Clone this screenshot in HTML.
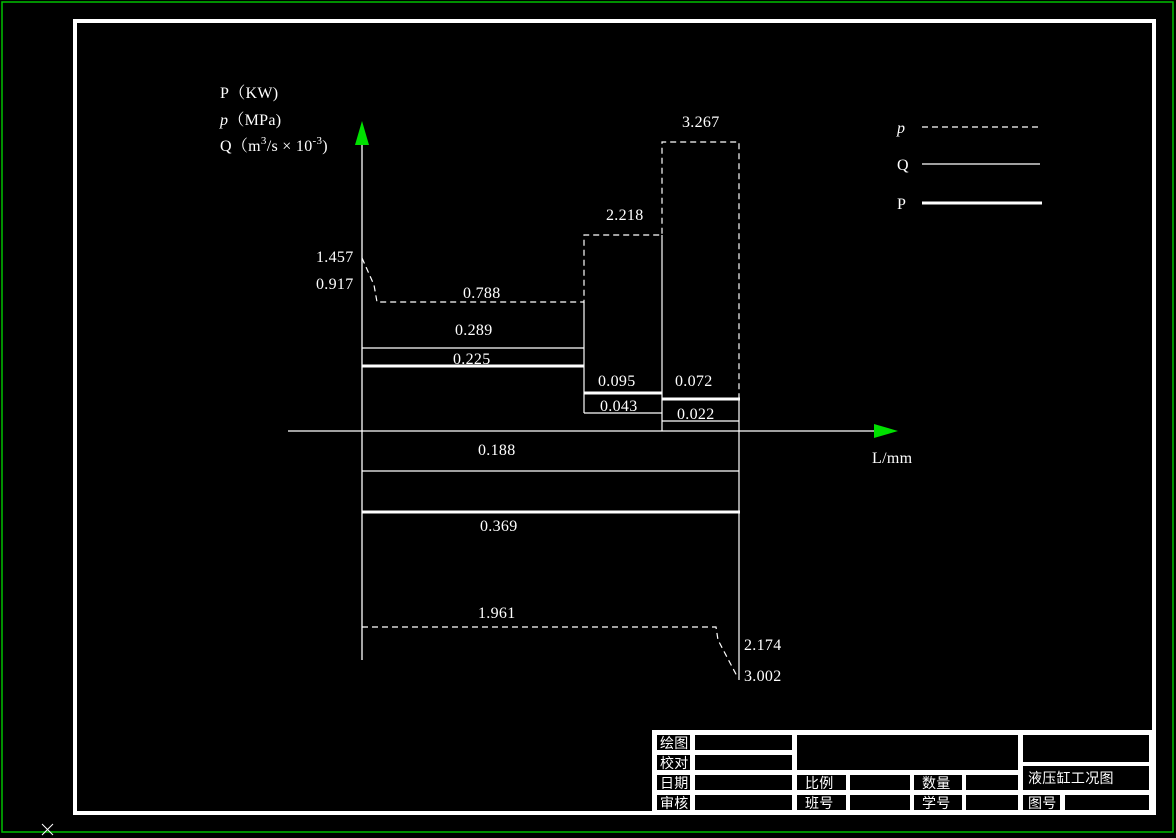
<!DOCTYPE html>
<html><head><meta charset="utf-8"><style>
html,body{margin:0;padding:0;background:#000;}
svg{display:block;}
text{font-family:"Liberation Serif","Noto Serif CJK SC",serif;fill:#fff;font-size:16px;letter-spacing:0.3px;}
.cn{font-family:"Liberation Sans","Noto Sans CJK SC",sans-serif;font-size:14px;}
</style></head><body>
<svg width="1176" height="838" viewBox="0 0 1176 838" xmlns="http://www.w3.org/2000/svg">
<rect x="0" y="0" width="1176" height="838" fill="#000"/>
<rect x="2" y="2" width="1171" height="830" fill="none" stroke="#00c000" stroke-width="1.5"/>
<path d="M42 824 L53 835 M53 824 L42 835" stroke="#fff" stroke-width="1"/>
<rect x="75" y="21" width="1079" height="792" fill="none" stroke="#fff" stroke-width="4"/>

<rect x="652" y="730" width="501" height="85" fill="#fff"/>
<g fill="#000">
<rect x="657" y="735" width="33" height="15"/><rect x="695" y="735" width="97" height="15"/>
<rect x="657" y="755" width="33" height="15"/><rect x="695" y="755" width="97" height="15"/>
<rect x="657" y="775" width="33" height="15"/><rect x="695" y="775" width="97" height="15"/>
<rect x="657" y="795" width="33" height="15"/><rect x="695" y="795" width="97" height="15"/>
<rect x="797" y="735" width="221" height="35"/>
<rect x="797" y="775" width="49" height="15"/><rect x="850" y="775" width="60" height="15"/>
<rect x="914" y="775" width="48" height="15"/><rect x="966" y="775" width="52" height="15"/>
<rect x="797" y="795" width="49" height="15"/><rect x="850" y="795" width="60" height="15"/>
<rect x="914" y="795" width="48" height="15"/><rect x="966" y="795" width="52" height="15"/>
<rect x="1023" y="735" width="126" height="27"/>
<rect x="1023" y="766" width="126" height="24"/>
<rect x="1023" y="795" width="37" height="15"/><rect x="1065" y="795" width="84" height="15"/>
</g>
<text class="cn" x="660" y="748">绘图</text>
<text class="cn" x="660" y="768">校对</text>
<text class="cn" x="660" y="788">日期</text>
<text class="cn" x="660" y="808">审核</text>
<text class="cn" x="805" y="788">比例</text>
<text class="cn" x="805" y="808">班号</text>
<text class="cn" x="922" y="788">数量</text>
<text class="cn" x="922" y="808">学号</text>
<text class="cn" x="1028" y="783">液压缸工况图</text>
<text class="cn" x="1028" y="808">图号</text>

<line x1="362" y1="140" x2="362" y2="660" stroke="#fff" stroke-width="1.3"/>
<polygon points="362,121 355,145 369,145" fill="#00e000"/>
<line x1="288" y1="431" x2="878" y2="431" stroke="#fff" stroke-width="1.3"/>
<polygon points="898,431 874,424 874,438" fill="#00e000"/>

<g fill="none" stroke="#fff" stroke-width="1.2" stroke-dasharray="6,4">
<path d="M362 258 L374 285 L377 302 L584 302 L584 235 L662 235 L662 142 L739 142 L739 399"/>
<path d="M362 627 L716 627 L718 640 L738 678"/>
<line x1="922" y1="127" x2="1040" y2="127"/>
</g>
<g stroke="#fff" stroke-width="1.2" fill="none">
<line x1="362" y1="348" x2="584" y2="348"/>
<line x1="584" y1="302" x2="584" y2="413"/>
<line x1="584" y1="413" x2="662" y2="413"/>
<line x1="662" y1="235" x2="662" y2="431"/>
<line x1="662" y1="421" x2="739" y2="421"/>
<line x1="739" y1="399" x2="739" y2="680"/>
<line x1="362" y1="471" x2="739" y2="471"/>
<line x1="922" y1="164" x2="1040" y2="164"/>
</g>
<g stroke="#fff" stroke-width="3">
<line x1="362" y1="366" x2="584" y2="366"/>
<line x1="584" y1="393" x2="662" y2="393"/>
<line x1="662" y1="399" x2="740" y2="399"/>
<line x1="362" y1="512" x2="740" y2="512"/>
<line x1="922" y1="203" x2="1042" y2="203"/>
</g>

<text x="220" y="98" font-size="17">P（KW)</text>
<text x="220" y="125" font-size="17"><tspan font-style="italic">p</tspan>（MPa)</text>
<text x="220" y="151" font-size="17">Q（m<tspan font-size="11" dy="-7">3</tspan><tspan dy="7">/s × 10</tspan><tspan font-size="11" dy="-7">-3</tspan><tspan dy="7">)</tspan></text>
<text x="316" y="262">1.457</text>
<text x="316" y="289">0.917</text>
<text x="463" y="298">0.788</text>
<text x="455" y="335">0.289</text>
<text x="453" y="364">0.225</text>
<text x="606" y="220">2.218</text>
<text x="682" y="127">3.267</text>
<text x="598" y="386">0.095</text>
<text x="600" y="411">0.043</text>
<text x="675" y="386">0.072</text>
<text x="677" y="419">0.022</text>
<text x="478" y="455">0.188</text>
<text x="480" y="531">0.369</text>
<text x="478" y="618">1.961</text>
<text x="744" y="650">2.174</text>
<text x="744" y="681">3.002</text>
<text x="872" y="463">L/mm</text>
<text x="897" y="133" font-style="italic">p</text>
<text x="897" y="170">Q</text>
<text x="897" y="209">P</text>
</svg>
</body></html>
